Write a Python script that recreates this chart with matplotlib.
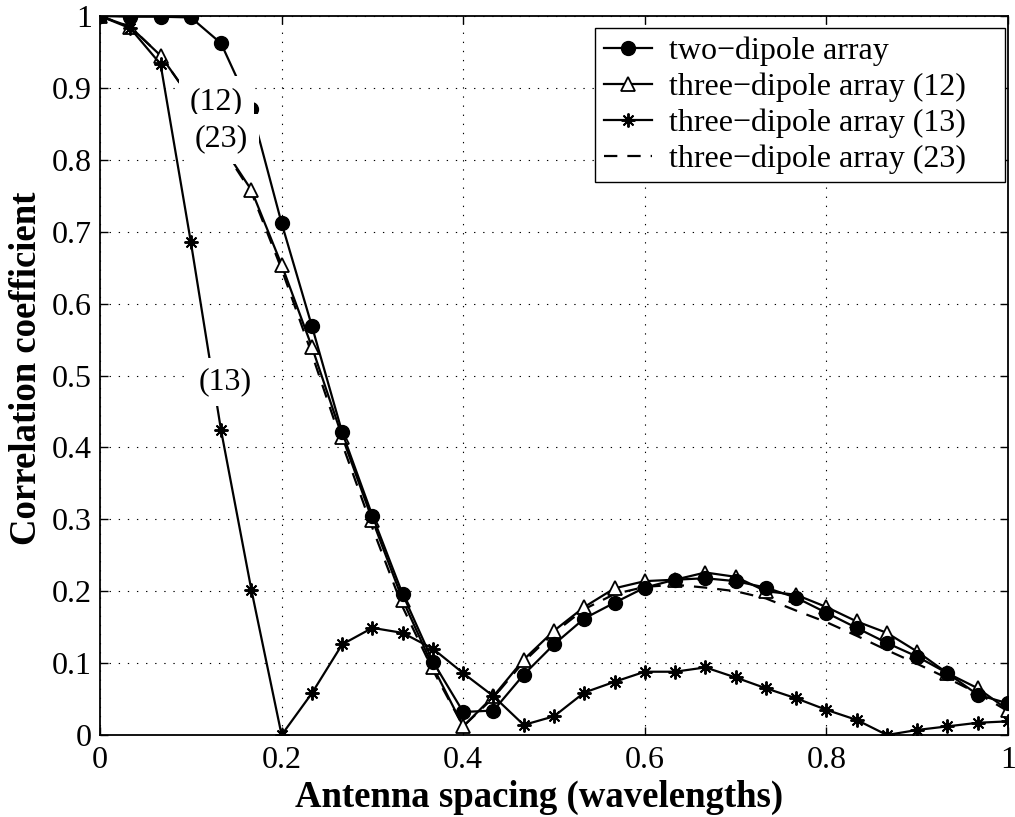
import numpy as np
import matplotlib
matplotlib.use("Agg")
import matplotlib.pyplot as plt

plt.rcParams['font.family'] = ['Liberation Serif', 'DejaVu Serif']

# antenna spacing (wavelengths), steps of 1/30
spacing = [0.0, 0.0333, 0.0667, 0.1, 0.1333, 0.1667, 0.2, 0.2333, 0.2667, 0.3,
           0.3333, 0.3667, 0.4, 0.4333, 0.4667, 0.5, 0.5333, 0.5667, 0.6, 0.6333,
           0.6667, 0.7, 0.7333, 0.7667, 0.8, 0.8333, 0.8667, 0.9, 0.9333, 0.9667, 1.0]

two_dipole = [1.0, 0.999, 0.999, 0.998, 0.962, 0.87, 0.712, 0.569, 0.421, 0.305,
              0.196, 0.102, 0.032, 0.034, 0.084, 0.126, 0.162, 0.184, 0.205, 0.216,
              0.218, 0.214, 0.205, 0.191, 0.170, 0.149, 0.128, 0.109, 0.086, 0.056, 0.044]

three_12 = [1.0, 0.985, 0.945, 0.885, 0.822, 0.758, 0.654, 0.540, 0.415, 0.299,
            0.188, 0.095, 0.012, 0.054, 0.105, 0.145, 0.178, 0.204, 0.214, 0.216,
            0.226, 0.220, 0.200, 0.195, 0.178, 0.158, 0.142, 0.116, 0.086, 0.065, 0.035]

three_13 = [1.0, 0.983, 0.933, 0.686, 0.424, 0.202, 0.0, 0.058, 0.126, 0.149,
            0.142, 0.120, 0.086, 0.054, 0.014, 0.026, 0.059, 0.074, 0.088, 0.088,
            0.094, 0.080, 0.065, 0.051, 0.035, 0.021, 0.0, 0.007, 0.012, 0.017, 0.019]

three_23 = [1.0, 0.985, 0.945, 0.885, 0.820, 0.755, 0.648, 0.530, 0.405, 0.288,
            0.178, 0.090, 0.012, 0.052, 0.102, 0.142, 0.175, 0.196, 0.206, 0.209,
            0.205, 0.200, 0.190, 0.173, 0.157, 0.138, 0.118, 0.099, 0.079, 0.058, 0.033]

legend_labels = ['two\u2212dipole array', 'three\u2212dipole array (12)',
                 'three\u2212dipole array (13)', 'three\u2212dipole array (23)']

# curve labels: text, x, y
curve_labels = [('(12)', 0.128, 0.881), ('(23)', 0.134, 0.829), ('(13)', 0.138, 0.491)]

xticks = [0, 0.2, 0.4, 0.6, 0.8, 1]
xticklabels = ['0', '0.2', '0.4', '0.6', '0.8', '1']
yticks = [0, 0.1, 0.2, 0.3, 0.4, 0.5, 0.6, 0.7, 0.8, 0.9, 1]
yticklabels = ['0', '0.1', '0.2', '0.3', '0.4', '0.5', '0.6', '0.7', '0.8', '0.9', '1']


fig = plt.figure(figsize=(10.15, 8.17), dpi=100)
ax = fig.add_axes([100 / 1015, 1 - 735 / 817, 908 / 1015, 719 / 817])

lw = 1.6
ax.plot(spacing, two_dipole, color='k', lw=lw, marker='o', ms=10,
        mfc='k', mec='k', label=legend_labels[0], zorder=4)
ax.plot(spacing, three_12, color='k', lw=lw, marker='^', ms=10.5,
        mfc='white', mec='k', mew=1.3, label=legend_labels[1], zorder=3)
ax.plot(spacing, three_13, color='k', lw=lw, marker=(8, 2, 0), ms=10,
        mec='k', mew=1.4, label=legend_labels[2], zorder=3)
ax.plot(spacing, three_23, color='k', lw=lw, ls=(0, (6, 4.5)),
        label=legend_labels[3], zorder=2)

for txt, lx, ly in curve_labels:
    pad = 0.3 if txt == '(13)' else 0.34
    ax.text(lx, ly, txt, fontsize=23, ha='center', va='center', zorder=6,
            bbox=dict(boxstyle='square,pad=%.2f' % pad, fc='white', ec='none'))

ax.set_xlim(0, 1)
ax.set_ylim(0, 1)
ax.set_xticks(xticks)
ax.set_xticklabels(xticklabels)
ax.set_yticks(yticks)
ax.set_yticklabels(yticklabels)
ax.tick_params(direction='in', length=6, width=1.0, top=True, right=True,
               labelsize=23)
ax.tick_params(axis='x', pad=8)
ax.tick_params(axis='y', pad=6)
ax.grid(True, color='k', lw=0.8, ls=(0, (1.2, 7)))
for sp in ax.spines.values():
    sp.set_linewidth(1.3)

ax.set_xlabel('Antenna spacing (wavelengths)', fontsize=26.5, fontweight='bold')
ax.xaxis.set_label_coords(0.483, -0.062)
ax.set_ylabel('Correlation coefficient', fontsize=26.5, fontweight='bold')
ax.yaxis.set_label_coords(-0.062, 0.51)

lx0 = (595 - 100) / 908
lw_ = (1005 - 595) / 908
leg = ax.legend(loc='upper right', bbox_to_anchor=(lx0, 0.0, lw_, (735 - 28) / 719),
                mode='expand', borderaxespad=0,
                fontsize=23, handlelength=1.5, handletextpad=0.55, labelspacing=0.2,
                borderpad=0.27, fancybox=False, framealpha=1, edgecolor='k')
leg.get_frame().set_linewidth(1.0)
leg.set_zorder(10)

fig.savefig('out.png', dpi=100)
